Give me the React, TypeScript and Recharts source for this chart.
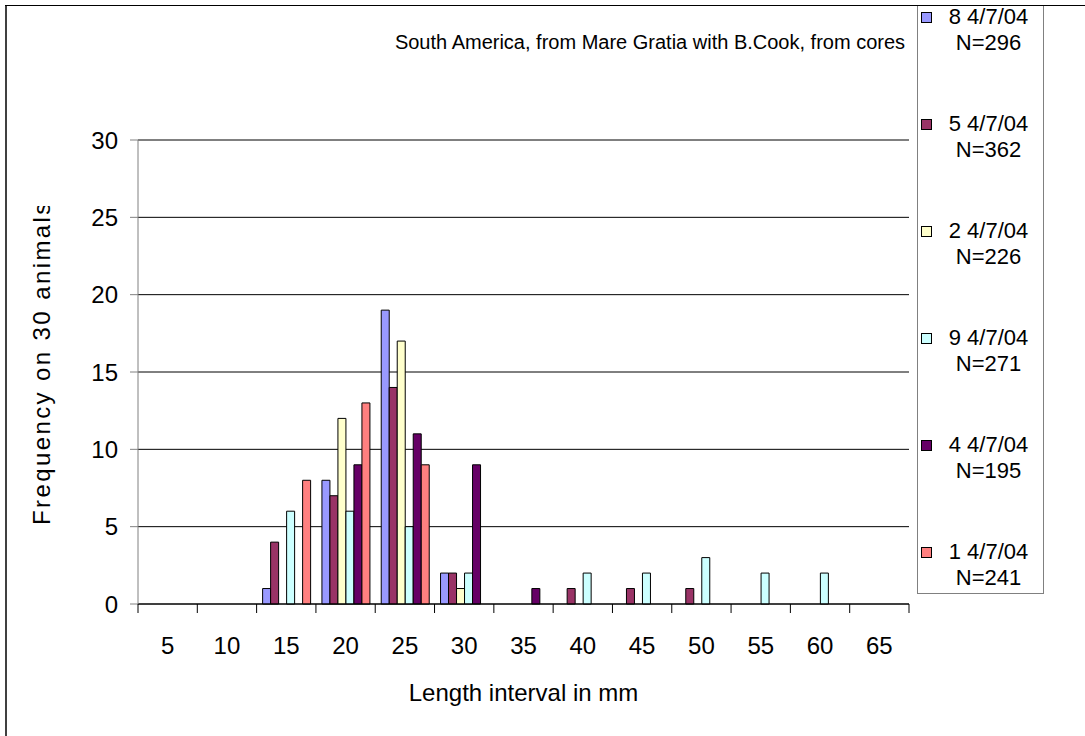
import React from 'react';
import { BarChart, Bar, XAxis, YAxis, CartesianGrid, Legend, Label } from 'recharts';

const lengths = ['5', '10', '15', '20', '25', '30', '35', '40', '45', '50', '55', '60', '65'];
const s8 = [0, 0, 1, 8, 19, 2, 0, 0, 0, 0, 0, 0, 0];
const s5 = [0, 0, 4, 7, 14, 2, 0, 1, 1, 1, 0, 0, 0];
const s2 = [0, 0, 0, 12, 17, 1, 0, 0, 0, 0, 0, 0, 0];
const s9 = [0, 0, 6, 6, 5, 2, 0, 2, 2, 3, 2, 2, 0];
const s4 = [0, 0, 0, 9, 11, 9, 1, 0, 0, 0, 0, 0, 0];
const s1 = [0, 0, 8, 13, 9, 0, 0, 0, 0, 0, 0, 0, 0];

const seriesKeys = ['s8', 's5', 's2', 's9', 's4', 's1'];
const seriesNames = ['8 4/7/04', '5 4/7/04', '2 4/7/04', '9 4/7/04', '4 4/7/04', '1 4/7/04'];
const seriesN = ['N=296', 'N=362', 'N=226', 'N=271', 'N=195', 'N=241'];
const seriesColors = ['#9999FF', '#993366', '#FFFFCC', '#CCFFFF', '#660066', '#FF8080'];
const yTicks = [0, 5, 10, 15, 20, 25, 30];

const data = lengths.map((len, i) => ({
  len,
  s8: s8[i],
  s5: s5[i],
  s2: s2[i],
  s9: s9[i],
  s4: s4[i],
  s1: s1[i],
}));

const FONT = '"Liberation Sans", Arial, sans-serif';
const PLOT_LEFT = 138;
const PLOT_RIGHT = 909;
const PLOT_BOTTOM = 604;
const BAND = (PLOT_RIGHT - PLOT_LEFT) / lengths.length;

// ticks sit between categories, like Excel
function LenTick(props: any) {
  const { x, payload, index } = props;
  const left = x - BAND / 2;
  const right = x + BAND / 2;
  return (
    <g>
      <line x1={left} x2={left} y1={PLOT_BOTTOM} y2={PLOT_BOTTOM + 9} stroke="#000" />
      {index === lengths.length - 1 && (
        <line x1={right} x2={right} y1={PLOT_BOTTOM} y2={PLOT_BOTTOM + 9} stroke="#000" />
      )}
      <text x={x} y={PLOT_BOTTOM + 41} dy="0.355em" textAnchor="middle" fontSize={24} fontFamily={FONT} fill="#000">
        {payload.value}
      </text>
    </g>
  );
}

// y title, cut off at the top the way the original is
function YTitle(props: any) {
  const { viewBox } = props;
  const cx = viewBox.x + 41;
  const bottom = viewBox.y + viewBox.height - 79;
  return (
    <g>
      <defs>
        <clipPath id="ytitleClip">
          <rect x={0} y={206} width={138} height={500} />
        </clipPath>
      </defs>
      <g clipPath="url(#ytitleClip)">
        <text
          x={cx}
          y={bottom}
          transform={`rotate(-90 ${cx} ${bottom})`}
          textAnchor="start"
          dy="0.355em"
          fontSize={24}
          letterSpacing={2.4}
          fontFamily={FONT}
          fill="#000"
        >
          Frequency on 30 animals
        </text>
      </g>
    </g>
  );
}

function renderLegend(props: any) {
  const payload = [...(props.payload || [])].sort(
    (a: any, b: any) => seriesNames.indexOf(a.value) - seriesNames.indexOf(b.value),
  );
  return (
    <div style={{ position: 'relative', width: 127, height: 589, border: '1px solid #808080', boxSizing: 'border-box', background: '#fff' }}>
      {payload.map((entry: any, i: number) => (
        <div key={entry.value} style={{ position: 'absolute', left: 0, top: -2 + i * 107, width: 125, height: 52 }}>
          <span
            style={{
              position: 'absolute',
              left: 3,
              top: 8,
              width: 11,
              height: 11,
              background: entry.color,
              border: '1px solid #000',
              boxSizing: 'border-box',
            }}
          />
          <div style={{ position: 'absolute', left: 14, top: 0, width: 113, textAlign: 'center', fontSize: 22, lineHeight: '26px', fontFamily: FONT, color: '#000', whiteSpace: 'nowrap' }}>
            <div>{entry.value}</div>
            <div>{seriesN[seriesNames.indexOf(entry.value)]}</div>
          </div>
        </div>
      ))}
    </div>
  );
}

export default function App() {
  return (
    <div style={{ position: 'relative', width: 1085, height: 736, background: '#fff', fontFamily: FONT, overflow: 'hidden' }}>
      <style>{'body{margin:0}'}</style>
      <BarChart
        width={1085}
        height={736}
        data={data}
        margin={{ top: 140, right: 1085 - PLOT_RIGHT, bottom: 32, left: 0 }}
        barGap={0}
        barSize={8}
      >
        <CartesianGrid horizontal vertical={false} stroke="#000" />
        <XAxis
          dataKey="len"
          height={100}
          interval={0}
          axisLine={{ stroke: '#000' }}
          tickLine={false}
          tick={<LenTick />}
        >
          <Label value="Length interval in mm" position="insideBottom" offset={3} fontSize={24} fontFamily={FONT} fill="#000" />
        </XAxis>
        <YAxis
          width={PLOT_LEFT}
          domain={[0, 30]}
          ticks={yTicks}
          interval={0}
          axisLine={{ stroke: '#808080' }}
          tickLine={{ stroke: '#808080' }}
          tickSize={8}
          tickMargin={12}
          tick={{ fontSize: 24, fontFamily: FONT, fill: '#000' }}
        >
          <Label content={<YTitle />} />
        </YAxis>
        <Legend
          layout="vertical"
          align="center"
          verticalAlign="middle"
          content={renderLegend}
          wrapperStyle={{ position: 'absolute', left: 917, top: 5, width: 127, height: 589 }}
        />
        {seriesKeys.map((k, i) => (
          <Bar
            key={k}
            dataKey={k}
            name={seriesNames[i]}
            fill={seriesColors[i]}
            stroke="#000"
            strokeWidth={1}
            isAnimationActive={false}
          />
        ))}
        <text x={650} y={42} dy="0.355em" textAnchor="middle" fontSize={20} fontFamily={FONT} fill="#000">
          South America, from Mare Gratia with B.Cook, from cores
        </text>
      </BarChart>
      <div style={{ position: 'absolute', left: 5, top: 5, width: 2, height: 731, background: '#404040' }} />
      <div style={{ position: 'absolute', left: 5, top: 5, width: 1080, height: 1, background: '#000' }} />
    </div>
  );
}
